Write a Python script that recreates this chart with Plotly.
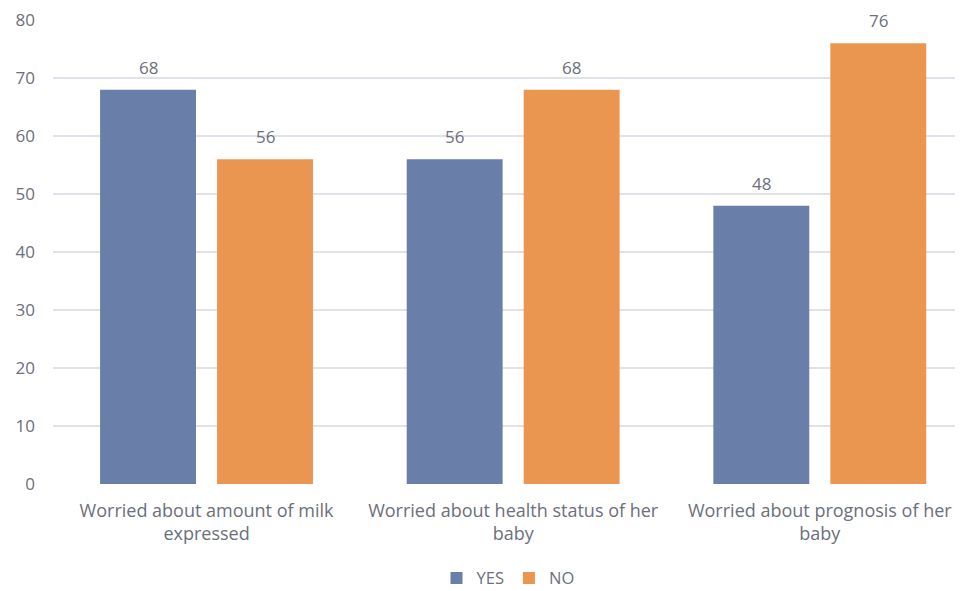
import plotly.graph_objects as go

categories = ["Worried about amount of milk<br>expressed",
              "Worried about health status of her<br>baby",
              "Worried about prognosis of her<br>baby"]
yes_values = [68, 56, 48]
no_values = [56, 68, 76]
y_ticks = [0, 10, 20, 30, 40, 50, 60, 70, 80]

font_family = "'Open Sans', Lato, sans-serif"
gray = "#6b707c"
bargap = 0.237
slot_offset = (1 - bargap) / 4  # centre of each of the two bar slots within a category

fig = go.Figure()
fig.add_trace(go.Bar(
    name="YES", x=categories, y=yes_values,
    marker=dict(color="#6a7eaa", line=dict(width=0)),
))
fig.add_trace(go.Bar(
    name="NO", x=categories, y=no_values,
    marker=dict(color="#eb9650", line=dict(width=0)),
))

# value labels above bars
for sign, vals in ((-1, yes_values), (1, no_values)):
    for i, v in enumerate(vals):
        fig.add_annotation(x=i + sign * slot_offset, y=v, xref="x", yref="y",
                           text=str(v), showarrow=False, yanchor="bottom", yshift=9,
                           font=dict(size=17, color=gray, family=font_family))

# page body has an 8px margin, so the figure is 8px smaller than the window
fig.update_layout(
    width=955, height=583,
    margin=dict(l=45, r=0, t=12, b=107, autoexpand=False),
    paper_bgcolor="white", plot_bgcolor="white",
    barmode="group", bargap=bargap, bargroupgap=0.18,
    font=dict(family=font_family, color=gray, size=16),
    showlegend=True,
    legend=dict(orientation="h", x=0.5, xanchor="center", yref="container", y=0.022,
                yanchor="middle", font=dict(size=16.5, color=gray), traceorder="normal",
                itemwidth=30),
    xaxis=dict(type="category", range=[-0.5007, 2.467], showgrid=False, zeroline=False,
               showline=False, ticks="", automargin=False, ticklabelstandoff=14,
               tickfont=dict(size=18, color=gray)),
    yaxis=dict(range=[0, 80.01], tickvals=y_ticks, showgrid=True, gridcolor="#dfe2e8", gridwidth=1.5,
               zeroline=False, showline=False, ticks="", ticklabelstandoff=17, automargin=False,
               tickfont=dict(size=17, color=gray)),
)

fig.write_html("out.html")
